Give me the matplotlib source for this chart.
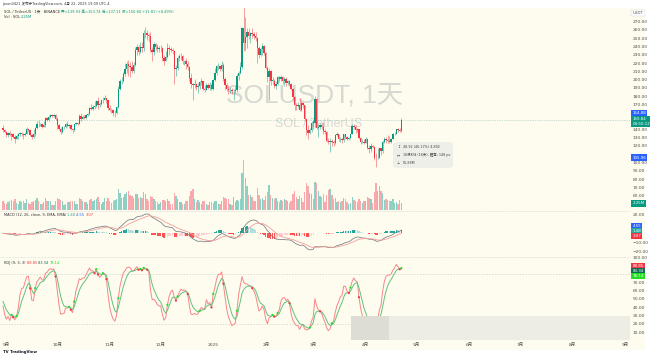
import numpy as np
import matplotlib.pyplot as plt
import matplotlib.dates as mdates
from matplotlib.patches import Rectangle, FancyBboxPatch
from matplotlib.lines import Line2D

plt.rcParams['font.family'] = ['DejaVu Sans', 'Noto Sans CJK SC']

# daily SOL/USDT candles, 2024-08-30 .. 2025-04-22
dates = np.arange('2024-08-30', '2025-04-23', dtype='datetime64[D]')
first_open = 142.0
close = [139, 137,
         133, 136, 133, 135, 131, 128, 132, 134, 136, 135, 133, 135, 141, 139, 133, 131, 135, 142, 147, 146,
         147, 143, 145, 154, 151, 155, 157, 156, 157, 152,
         145, 141, 137, 143, 143, 147, 144, 145, 141, 139, 146, 148, 147, 156, 153, 155, 154, 157, 158, 166,
         165, 167, 168, 174, 170, 171, 175, 176, 178, 175, 166,
         164, 163, 160, 160, 167, 189, 198, 199, 207, 213, 219, 217, 215, 211, 218, 236, 240, 234, 240, 238,
         256, 256, 254, 253, 236, 233, 243, 240, 237, 238,
         238, 226, 222, 227, 238, 237, 236, 235, 213, 214, 226, 228, 229, 222, 223, 219, 215, 202, 195, 193,
         195, 191, 192, 197, 198, 189, 188, 194, 190, 193, 189,
         200, 208, 216, 217, 213, 218, 201, 194, 189, 187, 188, 186, 186, 187, 205, 208, 215, 262, 244, 252,
         257, 253, 256, 255, 253, 250, 238, 230, 237, 241, 232,
         214, 203, 210, 199, 199, 192, 195, 203, 201, 203, 198, 201, 196, 198, 195, 189, 179, 169, 168, 170,
         164, 172, 170, 152, 139, 136, 139, 148,
         148, 177, 142, 143, 145, 143, 138, 137, 126, 125, 126, 125, 123, 133, 134, 128, 129, 127, 134, 131,
         128, 130, 134, 144, 143, 139, 140, 130, 125, 125, 124,
         128, 117, 116, 120, 119, 106, 105, 106, 117, 114, 125, 129, 127, 126, 125, 128, 134, 135, 141, 139,
         138, 150.84]
high = [145, 141,
        138, 137, 138, 136, 136, 133, 134, 136, 137, 137, 136, 137, 143, 142, 140, 134, 140, 143, 150, 151,
        148, 148, 150, 155, 155, 157, 159, 158, 158, 158,
        155, 146, 143, 144, 144, 148, 150, 147, 146, 142, 147, 149, 149, 158, 160, 157, 157, 159, 160, 167,
        171, 169, 174, 175, 179, 173, 176, 179, 182, 179, 176,
        170, 166, 164, 163, 168, 192, 201, 203, 209, 220, 223, 224, 221, 222, 221, 240, 243, 242, 245, 246,
        260, 264, 260, 256, 257, 239, 245, 244, 243, 241,
        242, 240, 230, 235, 244, 242, 240, 238, 236, 218, 228, 231, 232, 230, 224, 226, 223, 216, 208, 196,
        201, 196, 196, 199, 202, 199, 194, 196, 196, 197, 196,
        201, 214, 218, 220, 218, 222, 220, 203, 196, 194, 191, 190, 189, 192, 207, 210, 221, 263, 295, 276,
        262, 262, 258, 262, 257, 258, 251, 241, 239, 244, 242,
        233, 216, 214, 212, 203, 201, 198, 204, 205, 206, 204, 203, 203, 200, 200, 196, 190, 180, 172, 173,
        178, 174, 173, 170, 153, 145, 142, 150,
        151, 180, 178, 146, 148, 148, 149, 140, 138, 130, 130, 128, 127, 135, 137, 135, 131, 130, 135, 135,
        132, 131, 135, 147, 147, 145, 142, 140, 131, 129, 128,
        131, 130, 121, 123, 121, 120, 111, 118, 118, 117, 127, 131, 131, 133, 132, 130, 136, 137, 141, 142,
        142, 154]
low = [137, 136,
       131, 131, 132, 127, 130, 124, 128, 129, 132, 132, 128, 132, 134, 137, 132, 128, 130, 132, 141, 143,
       144, 142, 143, 143, 150, 150, 154, 155, 155, 151,
       140, 139, 135, 136, 141, 142, 143, 142, 139, 136, 138, 145, 145, 146, 150, 152, 152, 153, 156, 157,
       163, 164, 165, 167, 165, 167, 170, 172, 175, 172, 163,
       162, 160, 156, 155, 159, 166, 187, 195, 197, 205, 208, 205, 203, 208, 208, 217, 230, 230, 232, 234,
       235, 250, 248, 245, 234, 222, 230, 236, 234, 234,
       233, 222, 218, 222, 226, 230, 233, 231, 195, 205, 212, 222, 224, 219, 218, 213, 212, 198, 190, 175,
       190, 188, 184, 189, 194, 187, 185, 187, 189, 188, 187,
       188, 199, 206, 212, 210, 211, 199, 187, 186, 183, 184, 183, 176, 184, 185, 200, 207, 213, 235, 236,
       238, 249, 244, 250, 249, 247, 220, 226, 228, 230, 230,
       213, 197, 175, 193, 195, 190, 189, 193, 197, 198, 195, 192, 192, 194, 192, 188, 176, 163, 163, 166,
       162, 162, 166, 150, 133, 129, 134, 137,
       140, 143, 140, 131, 140, 141, 134, 135, 125, 122, 113, 120, 120, 122, 132, 126, 125, 124, 125, 129,
       127, 127, 129, 134, 141, 136, 137, 128, 122, 123, 122,
       124, 116, 112, 113, 117, 103, 95, 104, 106, 109, 112, 124, 124, 124, 123, 123, 128, 133, 134, 137,
       137, 137]
# volume, millions of SOL
volume = [3.2, 2.4,
          2.1, 2.6, 3.0, 3.4, 2.9, 3.8, 2.5, 2.2, 3.1, 2.8, 2.9, 2.4, 3.6, 2.3, 1.9, 2.8, 3.0, 3.5, 4.1, 3.0,
          2.1, 2.0, 2.6, 3.9, 3.1, 3.0, 3.2, 1.8, 1.7, 2.9,
          4.0, 3.6, 3.5, 2.9, 1.6, 1.9, 2.8, 2.6, 2.9, 3.2, 3.1, 1.9, 2.0, 3.9, 3.7, 2.9, 2.6, 2.7, 2.2, 3.4,
          3.6, 2.9, 3.3, 3.6, 4.3, 2.8, 2.1, 2.8, 3.9, 3.2, 4.0,
          2.9, 2.5, 3.0, 3.3, 3.6, 7.2, 5.6, 3.9, 4.4, 5.5, 6.2, 6.6, 5.2, 4.6, 4.2, 5.5, 5.3, 4.0, 4.3, 4.1,
          6.0, 5.4, 3.7, 3.2, 4.9, 4.4, 3.6, 3.0, 2.6, 2.1,
          2.6, 3.3, 3.4, 3.1, 3.8, 2.9, 2.2, 2.0, 5.8, 4.9, 3.6, 2.8, 2.6, 2.1, 1.9, 2.9, 3.0, 4.6, 6.4, 7.1,
          3.8, 2.7, 3.4, 2.6, 2.1, 3.0, 2.9, 1.9, 1.8, 2.8, 2.6,
          2.4, 3.0, 3.1, 2.2, 1.9, 3.0, 4.4, 4.0, 3.6, 3.8, 2.2, 1.8, 4.3, 2.6, 3.5, 3.2, 3.8, 12.5, 16.8, 10.8,
          8.3, 5.2, 5.0, 4.4, 2.9, 3.1, 7.5, 5.0, 3.8, 3.9, 3.5,
          4.6, 6.0, 8.4, 5.1, 3.9, 3.6, 4.2, 3.0, 2.7, 3.3, 3.0, 3.7, 3.4, 2.9, 2.4, 2.9, 5.3, 6.6, 4.3, 3.6,
          4.8, 3.9, 2.6, 6.2, 9.1, 8.2, 5.8, 5.4,
          3.7, 9.5, 9.2, 6.5, 4.6, 4.3, 5.3, 2.8, 5.0, 6.8, 7.2, 5.1, 3.7, 4.2, 2.7, 3.0, 2.8, 3.1, 4.2, 3.8,
          2.6, 1.9, 2.3, 4.4, 3.3, 3.0, 2.6, 3.7, 3.1, 2.4, 3.1,
          3.2, 4.4, 3.9, 3.6, 2.4, 6.2, 9.0, 6.5, 8.1, 6.6, 5.7, 3.4, 3.6, 3.4, 3.0, 2.9, 3.7, 2.5, 2.6, 2.2,
          3.4, 2.25]

month_ticks = ['2024-09-01', '2024-10-01', '2024-11-01', '2024-12-01', '2025-01-01', '2025-02-01',
               '2025-03-01', '2025-04-01', '2025-05-01', '2025-06-01', '2025-07-01', '2025-08-01', '2025-09-01']
month_labels = ['9月', '10月', '11月', '12月', '2025', '2月', '3月', '4月', '5月', '6月', '7月', '8月', '9月']
price_ticks = [60, 70, 80, 90, 100, 120, 130, 140, 170, 180, 190, 200, 210, 220, 230, 240, 250, 260, 270]
macd_ticks = [20, -10, -20]
kdj_ticks = [100, 70, 60, 50, 40, 30, 20, 10]

close = np.array(close, float)
high = np.array(high, float)
low = np.array(low, float)
volume = np.array(volume, float)
opn = np.concatenate([[first_open], close[:-1]])
x = mdates.date2num(dates)


def ema(vals, n):
    k = 2 / (n + 1)
    out = []
    e = vals[0]
    for v in vals:
        e = e + k * (v - e)
        out.append(e)
    return np.array(out)


macd = ema(close, 12) - ema(close, 26)
signal = ema(macd, 9)
hist = macd - signal

k_line, d_line = [], []
kv = dv = 50.0
for i in range(len(close)):
    lo = low[max(0, i - 8):i + 1].min()
    hi = high[max(0, i - 8):i + 1].max()
    rsv = (close[i] - lo) / (hi - lo) * 100 if hi > lo else 50
    kv = (2 * kv + rsv) / 3
    dv = (2 * dv + kv) / 3
    k_line.append(kv)
    d_line.append(dv)
k_line = np.array(k_line)
d_line = np.array(d_line)

W, H = 650, 356
cream = '#fdfcef'
up_c = '#089981'
dn_c = '#f23645'
lab_c = '#505050'

fig = plt.figure(figsize=(6.5, 3.56), dpi=100, facecolor=cream)


def rect(x0, y0, x1, y1):
    return [x0 / W, 1 - y1 / H, (x1 - x0) / W, (y1 - y0) / H]


fig.add_artist(Rectangle((0, 1 - 7 / H), 1, 7 / H, transform=fig.transFigure, color='white', zorder=0))
fig.add_artist(Rectangle((0, 0), 1, 6 / H, transform=fig.transFigure, color='white', zorder=0))
fig.add_artist(Rectangle((645 / W, 0), 5 / W, 1, transform=fig.transFigure, color='white', zorder=0))

x0 = mdates.date2num(np.datetime64('2024-09-01'))
xlim = (x0 - 6.4 / 1.695, x0 + (630 - 6.4) / 1.695)

ax_vol = fig.add_axes(rect(0, 8, 630, 210))
ax_main = fig.add_axes(rect(0, 8, 630, 210))
ax_macd = fig.add_axes(rect(0, 211, 630, 256))
ax_kdj = fig.add_axes(rect(0, 257, 630, 340))

for ax in (ax_vol, ax_main, ax_macd, ax_kdj):
    ax.set_xlim(*xlim)
    ax.set_facecolor('none')
    for s in ax.spines.values():
        s.set_visible(False)
    ax.yaxis.tick_right()
    ax.tick_params(axis='both', length=0, labelsize=3.2, colors=lab_c, pad=2)
    ax.set_xticks([])
ax_vol.axis('off')

up = close >= opn
cols = np.where(up, up_c, dn_c)

# volume overlay
ax_vol.set_ylim(0, 68.5)
ax_vol.bar(x, volume, width=0.8, color=np.where(up, '#8fd0c4', '#f8a9ae'), lw=0)

# watermark
ax_main.text(0.5, 0.569, 'SOLUSDT, 1天', transform=ax_main.transAxes, ha='center', va='center',
             fontsize=19, color='#d8d8d3', family=['Liberation Sans', 'Noto Sans CJK SC'], zorder=0)
ax_main.text(0.505, 0.4257, 'SOL / TetherUS', transform=ax_main.transAxes, ha='center', va='center',
             fontsize=9, color='#d8d8d3', family=['Liberation Sans'], zorder=0)

# candles
ax_main.set_ylim(42.74, 286.53)
ax_main.vlines(x, low, high, colors=cols, lw=0.55, alpha=0.6, zorder=2)
body = np.maximum(np.abs(close - opn), 0.4)
ax_main.bar(x, body, bottom=np.minimum(close, opn), width=0.82, color=cols, lw=0, zorder=3)
ax_main.axhline(close[-1], color='#8cc5b8', ls=(0, (1, 1.5)), lw=0.5, zorder=1)

ax_main.set_yticks(price_ticks)
ax_main.set_yticklabels(['%.2f' % v for v in price_ticks])


def tag(ax, yv, text, fc, tc='white', trans='data', fs=2.9):
    tr = ax.get_yaxis_transform() if trans == 'data' else ax.transAxes
    ax.text(1.004, yv, text, transform=tr, fontsize=fs, color=tc, va='center', ha='left',
            bbox=dict(boxstyle='square,pad=0.3', fc=fc, ec='none'), clip_on=False, zorder=10,
            linespacing=1.2)


tag(ax_main, 159.6, '154.88', '#2962ff')
tag(ax_main, close[-1] - 1.5, '150.84\n04:50:12', up_c)
tag(ax_main, 105.96, '105.96', '#2962ff')
ax_main.text(1.004, 280.5, 'USDT', transform=ax_main.get_yaxis_transform(), fontsize=2.9, color=lab_c,
             va='center', ha='left', clip_on=False,
             bbox=dict(boxstyle='square,pad=0.3', fc='white', ec='#d0d0d0', lw=0.3))
tag(ax_vol, volume[-1], '2.25M', up_c)


def chain(ax, xa, ya, parts, fs=2.6):
    t = ax.text(xa, ya, parts[0][0], color=parts[0][1], fontsize=fs, transform=ax.transAxes,
                va='center', ha='left', zorder=8)
    for s, c in parts[1:]:
        t = ax.annotate(s, xy=(1, 0.5), xycoords=t, color=c, fontsize=fs, va='center', ha='left',
                        zorder=8, annotation_clip=False)


chain(ax_main, 0.0063, 0.9817, [('SOL / TetherUS · 1天 · BINANCE ', '#333333'),
                                ('开=139.03 高=153.74 低=137.11 收=150.84 +11.81 (+8.49%)', up_c)])
chain(ax_main, 0.0063, 0.957, [('Vol · SOL ', '#333333'), ('2.25M', up_c)])

# measuring tooltip
ax_main.add_patch(FancyBboxPatch((393 / 630, (210 - 168) / 202), 60 / 630, 26 / 202,
                                 boxstyle='round,pad=0,rounding_size=0.01', transform=ax_main.transAxes,
                                 fc='#efefe9', ec='none', zorder=6))
for yy, ic, tx in [(147.5, '↕', '48.92 (46.17%) 4,892'), (155.0, '↔', '16根K线 (16天), 距离: 148 px'),
                   (162.5, '⊥', '55.88M')]:
    ax_main.text(397 / 630, (210 - yy) / 202, ic, transform=ax_main.transAxes, fontsize=2.6,
                 color='#444444', va='center', zorder=7)
    ax_main.text(403 / 630, (210 - yy) / 202, tx, transform=ax_main.transAxes, fontsize=2.4,
                 color='#444444', va='center', zorder=7)

# MACD
hcols = []
for i, h in enumerate(hist):
    prev = hist[i - 1] if i else h
    if h >= 0:
        hcols.append('#26a69a' if h >= prev else '#b2dfdb')
    else:
        hcols.append('#ffcdd2' if h > prev else '#ff5252')
ax_macd.set_ylim(-24.6, 24.2)
ax_macd.bar(x, hist, width=0.8, color=hcols, lw=0)
ax_macd.plot(x, macd, color='#6b6e7a', lw=0.5)
ax_macd.plot(x, signal, color='#f4a099', lw=0.6)
ax_macd.set_yticks(macd_ticks)
ax_macd.set_yticklabels(['%.2f' % v if v > 0 else '−%.2f' % -v for v in macd_ticks])
chain(ax_macd, 0.0063, 0.91, [('MACD (12, 26, close, 9, EMA, EMA) ', '#333333'), ('1.48 ', '#26a69a'),
                              ('4.55 ', '#2962ff'), ('3.07', '#f23645')])
tag(ax_macd, (256 - 226) / 45, '4.55', '#2962ff', trans='axes')
tag(ax_macd, (256 - 231) / 45, '1.48', '#26a69a', trans='axes')
tag(ax_macd, (256 - 236) / 45, '3.07', '#f23645', trans='axes')

# KDJ
ax_kdj.set_ylim(0.76, 100.4)
for lv in (80, 20):
    ax_kdj.axhline(lv, color='#cfcfc8', ls=(0, (2, 2)), lw=0.5)
ax_kdj.plot(x, k_line, color='#f7868a', lw=0.7, zorder=3)
ax_kdj.plot(x, d_line, color='#62c27b', lw=0.7, zorder=3)
diff = k_line - d_line
cross = np.where(np.sign(diff[1:]) != np.sign(diff[:-1]))[0] + 1
ax_kdj.scatter(x[cross], k_line[cross], s=2.5, lw=0, zorder=4,
               c=np.where(diff[cross] > 0, '#1fe01f', '#f23645'))
ax_kdj.set_yticks(kdj_ticks)
ax_kdj.set_yticklabels(['%.2f' % v for v in kdj_ticks])
chain(ax_kdj, 0.0063, 0.928, [('KDJ (9, 3, 3) ', '#333333'), ('88.85 ', '#f23645'),
                              ('83.34 ', '#0f6b4f'), ('78.14', '#1fe01f')])
tag(ax_kdj, (340 - 266) / 83, '88.85', '#f23645', trans='axes')
tag(ax_kdj, (340 - 271) / 83, '83.34', '#0f6b4f', trans='axes')
tag(ax_kdj, (340 - 276) / 83, '78.14', '#1fe01f', trans='axes')
ax_kdj.add_patch(Rectangle((351 / 630, 0), 38 / 630, 24 / 83, transform=ax_kdj.transAxes,
                           fc='#dddcd5', ec='none', zorder=6))
ax_kdj.add_patch(Rectangle((389 / 630, 0), 241 / 630, 24 / 83, transform=ax_kdj.transAxes,
                           fc='#eeede3', ec='none', zorder=6))
ax_kdj.set_xticks(mdates.date2num(np.array(month_ticks, dtype='datetime64[D]')))
ax_kdj.set_xticklabels(month_labels)

# pane separators
for yy in (210.5, 256.5):
    fig.add_artist(Line2D([0, 630 / W], [1 - yy / H] * 2, transform=fig.transFigure, ls=(0, (1, 1)),
                          color='#d6d6d0', lw=0.5))

fig.text(2 / W, 1 - 3.8 / H, 'jason0421 发布于TradingView.com, 4月 22, 2025 19:09 UTC-4', fontsize=2.5,
         color='#333333', va='center')
fig.text(3 / W, 1 - 351.5 / H, 'TV TradingView', fontsize=2.8, color='#131722', va='center', weight='bold')

fig.savefig('out.png', dpi=100, facecolor=cream)
